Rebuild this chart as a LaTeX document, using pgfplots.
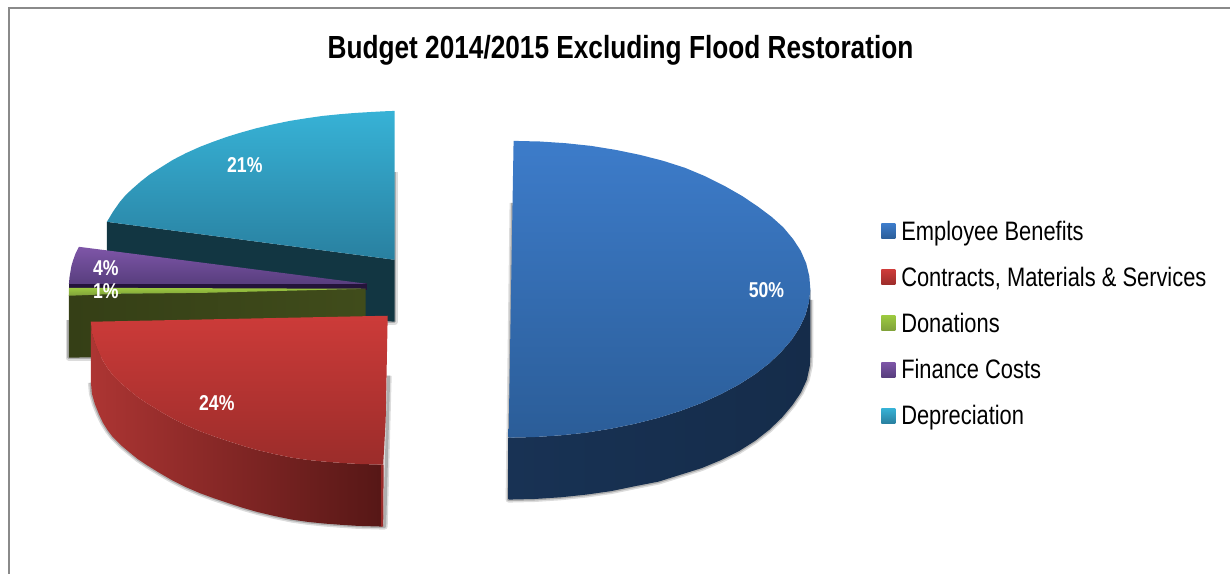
\documentclass[border=0pt]{standalone}
\usepackage{fontspec}
\setmainfont[FakeStretch=0.82]{Liberation Sans}
\usepackage{pgfplots}
\usepackage{pgfplotstable}
\pgfplotsset{compat=1.18}
\definecolor{framegrey}{HTML}{8A8A8A}
\definecolor{blueA}{RGB}{61,124,202}  \definecolor{blueB}{RGB}{43,93,152}
\definecolor{redA}{RGB}{204,59,57}    \definecolor{redB}{RGB}{155,44,42}
\definecolor{greenA}{RGB}{155,200,63} \definecolor{greenB}{RGB}{127,160,58}
\definecolor{purpA}{RGB}{126,86,168}  \definecolor{purpB}{RGB}{88,62,126}
\definecolor{tealA}{RGB}{55,178,214}  \definecolor{tealB}{RGB}{41,128,160}
\pgfplotsset{
  face/.style={draw=none, forget plot, no markers},
  softA/.style={draw=gray, opacity=0.28, line width=6pt, line join=round, forget plot, no markers},
  softB/.style={draw=gray, opacity=0.50, line width=3pt, line join=round, forget plot, no markers},
}
\tikzset{
  pct/.style={text=white, font=\fontsize{21.5}{24}\selectfont\bfseries, inner sep=0pt}
}
% Lower rims of the thick wedges, along which their drop shadows run
\pgfplotstableread{
x y
395 172
395 322
366 322
}\tealrim
\pgfplotstableread{
x y
69 320
69 358
91 358
}\olivrim
\pgfplotstableread{
x y
91 383
92 394
95 404.5
99 414.5
103 423
108 431
113 437.5
121 445.5
130 453
138 459.5
147 465.5
160 473.5
173 481
186 487.5
200 493.5
215 499
230 504
244 508.5
258 512.5
275 516.5
292 520
308 522.3
325 524
342 525.3
358 526.3
382 527
385 527
389 376
}\redrim
\pgfplotstableread{
x y
513 203
509 500
535.1 499.4
561 497.7
586.7 495
611.6 491.5
635.9 486.5
659.1 482
681.4 475
702.2 468.5
721.4 460.5
739.5 451.5
756 441
770 430
782.5 418
793 405.5
801.5 393
807.5 380
810.5 366
811 356
811 300
}\bluerim
\begin{document}
\begin{tikzpicture}
\begin{axis}[
  scale only axis, width=1231pt, height=574pt,
  xmin=0, xmax=1231, ymin=0, ymax=574, y dir=reverse,
  hide axis, clip=false,
  legend style={at={(axis cs:882,221)}, anchor=north west, draw=none, fill=none,
    inner sep=0pt, outer sep=0pt, row sep=25.3pt,
    font=\fontsize{26.7}{32}\selectfont,
    nodes={inner sep=0pt, anchor=west}},
  legend cell align=left,
]
% extent of the drawing area
\addplot[draw=none, forget plot, no markers] coordinates {(0,0) (1231,574)};
% chart frame
\addplot[framegrey, line width=2pt, forget plot, no markers] coordinates {(9,574) (9,8) (1231,8)};

% Depreciation wedge: shadow, wall, top
\addplot[softA] table {\tealrim};
\addplot[softB] table {\tealrim};
\addplot[face, fill={rgb,255:red,18;green,54;blue,66}]
  coordinates {(107,222) (395,260) (395,322) (107,300)};
\addplot[face, top color=tealA, bottom color=tealB]
  coordinates {(395,111) (384,111.4) (373,112) (356,113) (340,114.3) (323,116) (307,118.3) (290,121) (273,124.5) (256,128.5) (240,133) (227,137) (213,142) (200,147) (186,153.3) (173,160) (161,167.5) (150,174.5) (141,181.5) (133,188.5) (126,195) (120,202) (113,212) (107,222) (395,260)};

% Finance Costs wedge
\addplot[face, fill={rgb,255:red,36;green,20;blue,58}] coordinates {(69,283) (367,283) (367,290) (69,290)};
\addplot[face, top color=purpA, bottom color=purpB]
  coordinates {(79,247) (367,284) (69,284) (69.5,278) (70.5,272) (71.5,266) (73,261) (75.5,254)};

% Donations wedge
\addplot[softA] table {\olivrim};
\addplot[softB] table {\olivrim};
\addplot[face, left color={rgb,255:red,53;green,63;blue,22}, right color={rgb,255:red,64;green,76;blue,27}]
  coordinates {(69,295) (366,289) (366,352) (69,358)};
\addplot[face, top color=greenA, bottom color=greenB]
  coordinates {(69,288) (366,289) (207,293) (120,294) (69,296)};

% Contracts, Materials & Services wedge
\addplot[softA] table {\redrim};
\addplot[softB] table {\redrim};
\addplot[face, left color={rgb,255:red,173;green,53;blue,51}, middle color={rgb,255:red,128;green,37;blue,36}, right color={rgb,255:red,86;green,23;blue,22}]
  coordinates {(91,322) (91,383) (92,394) (95,404.5) (99,414.5) (103,423) (108,431) (113,437.5) (121,445.5) (130,453) (138,459.5) (147,465.5) (160,473.5) (173,481) (186,487.5) (200,493.5) (215,499) (230,504) (244,508.5) (258,512.5) (275,516.5) (292,520) (308,522.3) (325,524) (342,525.3) (358,526.3) (382,527) (382,465) (358,464.3) (342,463.3) (325,462) (308,460.3) (292,458) (275,454.5) (258,450.5) (244,446.5) (230,442) (215,437) (200,431.5) (186,425.5) (173,419) (160,411.5) (147,403.5) (138,397.5) (130,391) (121,383.5) (113,375.5) (108,369) (103,361) (99,353) (95,343) (92,333)};
\addplot[face, fill=redB] coordinates {(381.5,465) (384,465) (383.5,527) (381.5,527)};
\addplot[face, top color=redA, bottom color=redB]
  coordinates {(91,322) (388,316) (386,420) (383.5,465) (382,465) (358,464.3) (342,463.3) (325,462) (308,460.3) (292,458) (275,454.5) (258,450.5) (244,446.5) (230,442) (215,437) (200,431.5) (186,425.5) (173,419) (160,411.5) (147,403.5) (138,397.5) (130,391) (121,383.5) (113,375.5) (108,369) (103,361) (99,353) (95,343) (92,333)};

% Employee Benefits wedge
\addplot[softA] table {\bluerim};
\addplot[softB] table {\bluerim};
\addplot[face, left color={rgb,255:red,24;green,50;blue,84}, middle color={rgb,255:red,18;green,38;blue,63}, right color={rgb,255:red,21;green,44;blue,74}]
  coordinates {(509,438) (509,500) (535.1,499.4) (561,497.7) (586.7,495) (611.6,491.5) (635.9,486.5) (659.1,482) (681.4,475) (702.2,468.5) (721.4,460.5) (739.5,451.5) (756,441) (770,430) (782.5,418) (793,405.5) (801.5,393) (807.5,380) (810.5,366) (811,356) (811,289.5) (809.6,302.4) (806.1,315.3) (800.2,328) (792.1,340.3) (781.7,352.3) (769.6,363.8) (755.4,374.7) (739.3,385) (721.4,394.5) (702.2,403.3) (681.4,411.1) (659.1,418.1) (635.9,424) (611.6,429) (586.7,433) (561,435.7) (535.1,437.4)};
\addplot[face, top color=blueA, bottom color=blueB]
  coordinates {(514,141) (540.1,141.6) (566,143.3) (591.5,146) (616.2,150) (640.5,155) (663.5,160.9) (685.4,167.9) (706,176.5) (725,186) (742.5,196) (758.2,206.5) (772.2,217) (783.9,227.5) (793.9,239.5) (801.4,251) (806.9,263.7) (810,276.6) (811,289.5) (809.6,302.4) (806.1,315.3) (800.2,328) (792.1,340.3) (781.7,352.3) (769.6,363.8) (755.4,374.7) (739.3,385) (721.4,394.5) (702.2,403.3) (681.4,411.1) (659.1,418.1) (635.9,424) (611.6,429) (586.7,433) (561,435.7) (535.1,437.4) (509,438)};

% Legend swatches and entries
\addlegendimage{legend image code/.code={\path[draw=none, top color=blueA, bottom color=blueB] (0pt,-7.5pt) rectangle (14pt,7.5pt);}}
\addlegendentry{\hspace{6pt}Employee Benefits}
\addlegendimage{legend image code/.code={\path[draw=none, top color=redA, bottom color=redB] (0pt,-7.5pt) rectangle (14pt,7.5pt);}}
\addlegendentry{\hspace{6pt}Contracts, Materials \& Services}
\addlegendimage{legend image code/.code={\path[draw=none, top color=greenA, bottom color=greenB] (0pt,-7.5pt) rectangle (14pt,7.5pt);}}
\addlegendentry{\hspace{6pt}Donations}
\addlegendimage{legend image code/.code={\path[draw=none, top color=purpA, bottom color=purpB] (0pt,-7.5pt) rectangle (14pt,7.5pt);}}
\addlegendentry{\hspace{6pt}Finance Costs}
\addlegendimage{legend image code/.code={\path[draw=none, top color=tealA, bottom color=tealB] (0pt,-7.5pt) rectangle (14pt,7.5pt);}}
\addlegendentry{\hspace{6pt}Depreciation}

% Title and percentage labels
\node[font=\fontsize{32}{38}\selectfont\bfseries, inner sep=0pt] at (axis cs:621,50) {Budget 2014/2015 Excluding Flood Restoration};
\node[pct] at (axis cs:767,290) {50\%};
\node[pct] at (axis cs:245,165) {21\%};
\node[pct] at (axis cs:217,403) {24\%};
\node[pct] at (axis cs:106,268) {4\%};
\node[pct] at (axis cs:106,291) {1\%};
\end{axis}
\end{tikzpicture}
\end{document}
